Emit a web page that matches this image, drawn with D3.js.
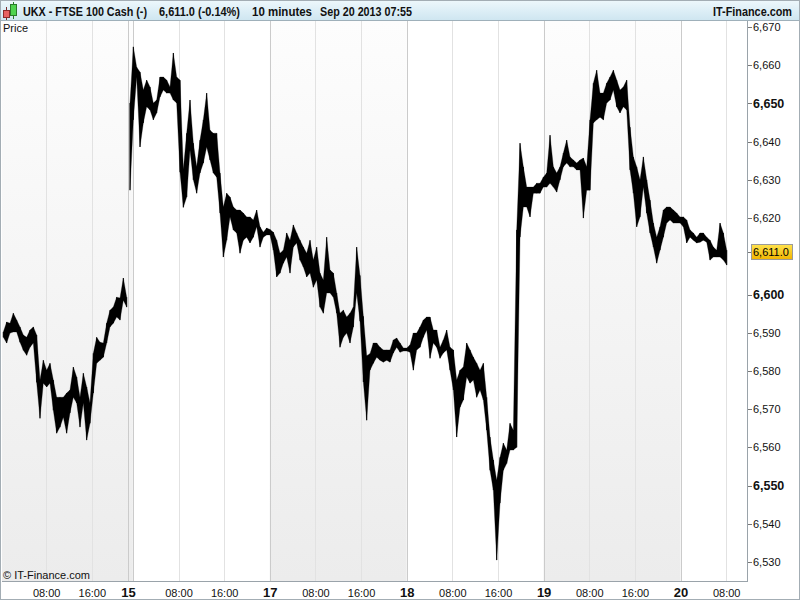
<!DOCTYPE html>
<html><head><meta charset="utf-8">
<script src="https://cdn.jsdelivr.net/npm/d3@7"></script>
<style>html,body{margin:0;padding:0;background:#fff}svg{display:block;font-family:"Liberation Sans",Arial,sans-serif}</style>
</head><body><svg id="c" width="800" height="600"></svg>
<script>
const highs = [
6590.2,6592.8,6592.5,6595.1,6593.3,6591.5,6589.4,6588.8,6590.7,6591.5,
6589.4,6577.6,6582.8,6580.2,6582.0,6577.6,6573.1,6573.1,6573.1,6574.2,
6575.0,6581.0,6578.4,6573.1,6579.4,6575.8,6571.6,6584.6,6588.8,6587.5,
6587.3,6592.5,6595.9,6596.7,6599.3,6599.1,6604.3,6599.3,
6650.1,6664.8,6659.5,6658.2,6653.5,6656.1,6654.3,6650.1,6650.9,6656.9,
6656.9,6656.1,6654.3,6663.2,6656.9,6656.1,6632.8,6642.2,6650.9,6639.6,
6633.4,6640.4,6645.7,6652.7,6643.0,6642.2,6642.2,6631.8,6622.9,6626.5,
6625.5,6622.9,6622.1,6622.1,6621.3,6620.3,6620.3,6619.5,6622.1,6617.7,
6616.3,6617.4,6617.0,6616.3,6614.2,6610.8,6611.6,6616.1,6614.2,6618.2,
6616.1,6614.2,6612.4,6610.8,6614.2,6609.0,6612.4,6605.6,6603.8,6615.0,
6606.4,6605.6,6600.4,6595.1,6595.9,6594.1,6595.1,6596.7,6612.4,6605.0,
6594.3,6584.0,6584.5,6587.3,6587.3,6586.2,6585.5,6585.5,6585.5,6588.1,
6588.6,6587.3,6586.0,6586.0,6586.8,6589.9,6589.9,6591.5,6593.3,6594.1,
6594.1,6590.7,6590.7,6586.2,6588.1,6590.7,6586.2,6585.5,6577.6,6580.2,
6581.0,6587.3,6585.5,6583.6,6582.0,6580.2,6582.0,6573.1,6562.7,6556.7,
6551.4,6557.4,6561.1,6559.3,6566.3,6564.5,6616.9,6639.6,6633.4,6628.1,
6628.1,6628.1,6629.1,6629.1,6630.7,6631.8,6641.7,6633.4,6631.8,6633.4,
6637.0,6640.4,6636.0,6635.2,6634.4,6635.2,6635.7,6633.4,6645.7,6655.3,
6658.7,6652.7,6652.7,6655.3,6656.9,6658.7,6656.1,6653.5,6654.3,6656.1,
6643.8,6636.0,6633.4,6630.0,6636.0,6630.0,6624.7,6618.7,6615.0,6617.7,
6622.1,6622.9,6622.9,6622.1,6621.3,6620.3,6620.3,6619.5,6616.9,6616.1,
6615.0,6616.1,6616.1,6615.0,6614.2,6612.4,6611.6,6618.7,6616.1,6611.6
];
const lows = [
6588.8,6587.3,6589.9,6590.2,6590.2,6587.5,6585.4,6584.1,6586.2,6587.3,
6577.0,6567.6,6576.8,6575.8,6576.8,6569.7,6563.7,6565.3,6567.9,6563.7,
6569.0,6573.1,6571.6,6565.3,6571.6,6561.9,6566.3,6574.2,6582.0,6582.8,
6583.6,6587.3,6591.5,6592.5,6594.1,6593.3,6598.5,6596.7,
6627.3,6645.7,6656.9,6638.6,6644.9,6649.1,6648.3,6645.7,6647.5,6651.7,
6653.5,6652.7,6652.7,6650.9,6650.1,6632.0,6622.8,6625.5,6637.8,6630.0,
6626.5,6631.8,6634.4,6638.6,6635.2,6631.8,6630.7,6621.3,6609.8,6614.2,
6620.3,6616.9,6616.1,6610.8,6614.2,6615.0,6613.5,6615.0,6617.7,6612.4,
6615.0,6615.6,6615.6,6611.6,6604.6,6605.6,6608.2,6609.8,6605.6,6612.4,
6613.5,6609.0,6607.2,6604.6,6605.6,6601.9,6603.8,6596.7,6595.1,6600.4,
6600.4,6599.3,6595.1,6586.2,6588.8,6589.9,6587.3,6591.5,6600.4,6593.0,
6577.1,6567.1,6580.2,6582.0,6583.6,6582.8,6582.3,6582.8,6582.3,6584.7,
6586.2,6584.9,6585.2,6585.2,6584.9,6580.2,6585.5,6586.2,6588.8,6590.7,
6583.3,6587.3,6586.2,6583.3,6584.7,6585.5,6580.2,6575.0,6562.7,6570.5,
6572.4,6578.4,6576.8,6577.6,6573.1,6575.0,6572.4,6564.5,6554.0,6548.8,
6530.5,6545.4,6554.0,6555.8,6559.3,6559.3,6560.0,6615.0,6622.9,6622.9,
6620.3,6626.5,6626.5,6626.5,6628.1,6628.1,6629.1,6628.1,6626.8,6630.0,
6633.4,6634.4,6633.4,6633.4,6632.6,6632.6,6620.0,6627.3,6627.3,6644.9,
6645.7,6646.4,6645.7,6650.1,6650.9,6653.5,6649.1,6647.5,6649.1,6648.3,
6632.6,6626.5,6617.7,6620.3,6628.1,6621.3,6616.1,6612.4,6608.2,6611.6,
6615.0,6618.7,6619.5,6618.7,6618.7,6618.7,6617.7,6613.5,6615.0,6614.2,
6613.5,6613.7,6614.2,6613.7,6609.0,6609.8,6609.8,6609.8,6609.0,6607.7
];
// index where the Sunday-evening session starts (gap after Friday close)
const sessionBreaks = [38];
const yTickValues = [6530,6540,6550,6560,6570,6580,6590,6600,6620,6630,6640,6650,6660,6670];
const boldTicks = [6550,6600,6650];
// session hours from Fri 13 00:00 (weekend compressed)
const xTickHours  = [8,16,22.35,23.2,31.2,39.2,47.2,55.2,63.2,71.2,79.2,87.2,95.2,103.2,111.2,119.2,127.2];
const xTickLabels = ["08:00","16:00","15","","08:00","16:00","17","08:00","16:00","18","08:00","16:00","19","08:00","16:00","20","08:00"];
const dayBoundaryHours = [22.35,23.2,47.2,71.2,95.2,119.2];
const shadedDays = [[0,23.2],[47.2,71.2],[95.2,119.2]];
const lastPrice = 6611.0;
const titleParts = ["UKX - FTSE 100 Cash (-)","6,611.0 (-0.14%)","10 minutes","Sep 20 2013 07:55"];

// ---- layout ----
const L = 2, R = 747, T = 21, B = 581;
const svg = d3.select("#c");
const defs = svg.append("defs");
const hg = defs.append("linearGradient").attr("id","hdr").attr("x1",0).attr("y1",0).attr("x2",0).attr("y2",1);
hg.append("stop").attr("offset","0%").attr("stop-color","#eef8fc");
hg.append("stop").attr("offset","100%").attr("stop-color","#cfe6f1");
const dg = defs.append("linearGradient").attr("id","day").attr("x1",0).attr("y1",0).attr("x2",0).attr("y2",1);
dg.append("stop").attr("offset","0%").attr("stop-color","#fdfdfd");
dg.append("stop").attr("offset","100%").attr("stop-color","#ececec");
const pg = defs.append("linearGradient").attr("id","pm").attr("x1",0).attr("y1",0).attr("x2",0).attr("y2",1);
pg.append("stop").attr("offset","0%").attr("stop-color","#ffe34d");
pg.append("stop").attr("offset","100%").attr("stop-color","#f2b400");
defs.append("clipPath").attr("id","plot").append("rect").attr("x",L).attr("y",T).attr("width",R-L).attr("height",B-T);

const xTime = d3.scaleLinear().domain([0,127.2]).range([0.5,726.2]);
const xIdx = d3.scaleLinear().domain([1,highs.length]).range([3.33,726.7]);
const y = d3.scaleLinear().domain([6530,6670]).range([562,27]);

svg.append("rect").attr("width",800).attr("height",600).attr("fill","#fff");

// shaded day bands
const plot = svg.append("g").attr("clip-path","url(#plot)");
plot.selectAll("rect.day").data(shadedDays).join("rect").attr("class","day")
  .attr("x",d=>Math.max(L,xTime(d[0]))).attr("y",T)
  .attr("width",d=>Math.min(R,xTime(d[1]))-Math.max(L,xTime(d[0]))).attr("height",B-T)
  .attr("fill","url(#day)");

// vertical grid
plot.selectAll("line.grid").data(xTickHours).join("line").attr("class","grid")
  .attr("x1",d=>Math.round(xTime(d))+0.5).attr("x2",d=>Math.round(xTime(d))+0.5)
  .attr("y1",T).attr("y2",B)
  .attr("stroke",d=>dayBoundaryHours.includes(d)?"#cbcbcb":"#e2e2e2").attr("stroke-width",1);

// price high-low band (dense 10-minute bars)
const bars = highs.map((h,i)=>({i:i+1,h:h,l:lows[i]}));
const segs = [];
let start = 0;
sessionBreaks.concat([bars.length]).forEach(b=>{ segs.push(bars.slice(start,b)); start=b; });
const area = d3.area().x(d=>xIdx(d.i)).y0(d=>y(d.l)).y1(d=>y(d.h)).curve(d3.curveLinear);
plot.selectAll("path.band").data(segs).join("path").attr("class","band")
  .attr("d",area).attr("fill","#000").attr("stroke","#000").attr("stroke-width",0.3);
plot.selectAll("line.bar").data(bars).join("line").attr("class","bar")
  .attr("x1",d=>xIdx(d.i)).attr("x2",d=>xIdx(d.i)).attr("y1",d=>y(d.h)).attr("y2",d=>y(d.l))
  .attr("stroke","#000").attr("stroke-width",1);

// axes lines
svg.append("line").attr("x1",L).attr("x2",R+1).attr("y1",B+0.5).attr("y2",B+0.5).attr("stroke","#9aa3aa");
svg.append("line").attr("x1",R+0.5).attr("x2",R+0.5).attr("y1",T-1).attr("y2",B+1).attr("stroke","#9aa3aa");

// right axis ticks
const ya = svg.append("g");
ya.selectAll("line").data(yTickValues).join("line")
  .attr("x1",R+1).attr("x2",R+5).attr("y1",d=>Math.round(y(d))+0.5).attr("y2",d=>Math.round(y(d))+0.5)
  .attr("stroke","#777");
ya.selectAll("text").data(yTickValues).join("text")
  .attr("x",R+6).attr("y",d=>y(d)).attr("dy","0.36em")
  .attr("font-size",d=>boldTicks.includes(d)?"12.5px":"11px")
  .attr("font-weight",d=>boldTicks.includes(d)?"bold":"normal")
  .attr("fill","#111").text(d=>d3.format(",")(d));

// last price marker
const py = y(lastPrice);
svg.append("line").attr("x1",R+1).attr("x2",R+5).attr("y1",Math.round(py)+0.5).attr("y2",Math.round(py)+0.5).attr("stroke","#777");
svg.append("rect").attr("x",R+4.5).attr("y",Math.round(py)-7.5).attr("width",41).attr("height",15)
  .attr("fill","url(#pm)").attr("stroke","#9a9a9a");
svg.append("text").attr("x",R+6).attr("y",py).attr("dy","0.36em").attr("font-size","11px").attr("fill","#000")
  .text(d3.format(",.1f")(lastPrice));

// bottom axis labels
svg.append("g").selectAll("text").data(xTickHours).join("text")
  .attr("x",d=>xTime(d)+0.5).attr("y",597).attr("text-anchor","middle")
  .attr("font-size",(d,i)=>/^\d\d$/.test(xTickLabels[i])?"13px":"11px")
  .attr("font-weight",(d,i)=>/^\d\d$/.test(xTickLabels[i])?"bold":"normal")
  .attr("fill","#111").text((d,i)=>xTickLabels[i]);

// texts in plot
svg.append("text").attr("x",3).attr("y",32).attr("font-size","11px").attr("fill","#111").text("Price");
svg.append("text").attr("x",3).attr("y",579).attr("font-size","11px").attr("fill","#111").text("\u00a9 IT-Finance.com");

// header
svg.append("rect").attr("x",0).attr("y",0).attr("width",800).attr("height",20).attr("fill","url(#hdr)");
svg.append("line").attr("x1",0).attr("x2",800).attr("y1",20.5).attr("y2",20.5).attr("stroke","#9fb0ba");
const icon = svg.append("g");
icon.append("line").attr("x1",6.5).attr("x2",6.5).attr("y1",7).attr("y2",20).attr("stroke","#7a2a2a");
icon.append("rect").attr("x",3.5).attr("y",10.5).attr("width",6).attr("height",7).attr("fill","#e86060").attr("stroke","#8a2a2a");
icon.append("line").attr("x1",13.5).attr("x2",13.5).attr("y1",2).attr("y2",19).attr("stroke","#2a7a2a");
icon.append("rect").attr("x",10.5).attr("y",4.5).attr("width",6).attr("height",11).attr("fill","#4fd34f").attr("stroke","#2a7a2a");
const titleX = [23,159,252,320];
const titleW = [124,81,60,92];
svg.append("g").selectAll("text").data(titleParts).join("text")
  .attr("x",(d,i)=>titleX[i]).attr("y",15.5).attr("font-size","12px").attr("font-weight","bold").attr("fill","#111")
  .attr("textLength",(d,i)=>titleW[i]).attr("lengthAdjust","spacingAndGlyphs").text(d=>d);
svg.append("text").attr("x",713).attr("y",15.5).attr("font-size","12px").attr("font-weight","bold").attr("fill","#111")
  .attr("textLength",79).attr("lengthAdjust","spacingAndGlyphs").text("IT-Finance.com");

// outer frame
svg.append("rect").attr("x",0.5).attr("y",0.5).attr("width",799).attr("height",599).attr("fill","none").attr("stroke","#a3adb4");
</script></body></html>
